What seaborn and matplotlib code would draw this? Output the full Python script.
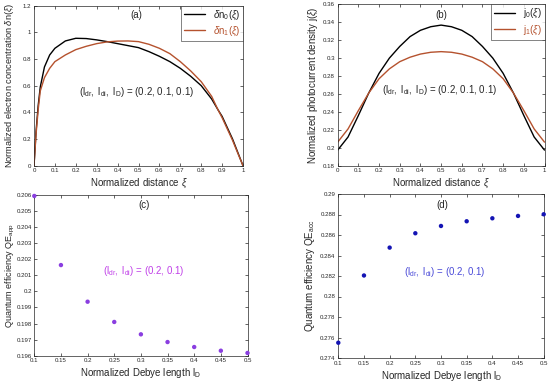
import numpy as np
import pandas as pd
import matplotlib
matplotlib.use("Agg")
import matplotlib.pyplot as plt
from matplotlib.ticker import FuncFormatter
import seaborn as sns

# ---------------- data ----------------
xi_a = [0, 0.01, 0.02, 0.03, 0.05, 0.075, 0.1, 0.15, 0.2, 0.25, 0.3, 0.35, 0.4, 0.45,
        0.5, 0.55, 0.6, 0.65, 0.7, 0.75, 0.8, 0.85, 0.88, 0.9, 0.95, 0.98, 1.0]
dn0 = [0, 0.26, 0.45, 0.59, 0.74, 0.83, 0.88, 0.935, 0.955, 0.953, 0.943, 0.93, 0.915, 0.9,
       0.885, 0.855, 0.82, 0.78, 0.73, 0.67, 0.6, 0.5, 0.42, 0.37, 0.2, 0.08, 0]
dn1 = [0, 0.24, 0.42, 0.56, 0.66, 0.73, 0.78, 0.83, 0.87, 0.895, 0.915, 0.928, 0.934, 0.935,
       0.93, 0.91, 0.88, 0.84, 0.78, 0.71, 0.63, 0.52, 0.42, 0.36, 0.19, 0.075, 0]

xi_b = [0, 0.05, 0.1, 0.15, 0.2, 0.25, 0.3, 0.35, 0.4, 0.45, 0.5,
        0.55, 0.6, 0.65, 0.7, 0.75, 0.8, 0.85, 0.9, 0.95, 1.0]
j0 = [0.1974, 0.212, 0.236, 0.261, 0.283, 0.300, 0.313, 0.324, 0.331, 0.335, 0.3368,
      0.335, 0.331, 0.324, 0.313, 0.300, 0.283, 0.261, 0.236, 0.212, 0.1974]
j1 = [0.2063, 0.221, 0.2415, 0.261, 0.277, 0.288, 0.296, 0.301, 0.3045, 0.3065, 0.3072,
      0.3065, 0.3045, 0.301, 0.296, 0.288, 0.277, 0.261, 0.2415, 0.221, 0.2063]

lD = [0.1, 0.15, 0.2, 0.25, 0.3, 0.35, 0.4, 0.45, 0.5]
qe_app = [0.20594, 0.20164, 0.19936, 0.19810, 0.19733, 0.19685, 0.19654, 0.19631, 0.19617]
qe_acc = [0.27549, 0.28205, 0.28477, 0.28617, 0.28688, 0.28734, 0.28763, 0.28786, 0.28802]

# ---------------- style ----------------
sns.set_style("ticks")
plt.rcParams["font.family"] = ["Liberation Sans", "DejaVu Sans"]
plt.rcParams["mathtext.fontset"] = "custom"
plt.rcParams["mathtext.rm"] = "Liberation Sans"
plt.rcParams["mathtext.it"] = "Liberation Sans:italic"
plt.rcParams["mathtext.default"] = "regular"

W, H = 550, 388
fig = plt.figure(figsize=(W / 100, H / 100), dpi=100)


def add_ax(left, right, top, bottom):
    return fig.add_axes([left / W, 1 - bottom / H, (right - left) / W, (bottom - top) / H])


ax_a = add_ax(34, 243, 5.6, 165.7)
ax_b = add_ax(337.7, 544.5, 4.3, 165.7)
ax_c = add_ax(34.3, 247.5, 195, 355.7)
ax_d = add_ax(338.3, 543.7, 194, 358)

red = "#b5522e"
tick_fs = 4.4
lab_fs = 7.0

g = FuncFormatter(lambda v, p: ("%.4f" % v).rstrip("0").rstrip("."))

for ax in (ax_a, ax_b, ax_c, ax_d):
    ax.tick_params(direction="in", top=True, right=True, labelsize=tick_fs,
                   length=2.5, width=0.5, pad=2, colors="#262626")
    for s in ax.spines.values():
        s.set_linewidth(0.5)
        s.set_color("#262626")
    ax.xaxis.set_major_formatter(g)
    ax.yaxis.set_major_formatter(g)

# (a)
da = pd.DataFrame({"xi": xi_a, "dn0": dn0, "dn1": dn1})
sns.lineplot(data=da, x="xi", y="dn0", ax=ax_a, color="black", lw=1.0,
             label=r"$\mathit{\delta}n_0(\mathit{\xi})$", estimator=None, sort=False)
sns.lineplot(data=da, x="xi", y="dn1", ax=ax_a, color=red, lw=1.0,
             label=r"$\mathit{\delta}n_1(\mathit{\xi})$", estimator=None, sort=False)
ax_a.set_xlim(0, 1)
ax_a.set_ylim(0, 1.2)
ax_a.set_xticks(np.arange(0, 1.01, 0.1))
ax_a.set_yticks(np.arange(0, 1.21, 0.2))
ax_a.set_xlabel(r"Normalized distance $\mathit{\xi}$", fontsize=lab_fs, labelpad=2)
ax_a.set_ylabel(r"Normalized electron concentration $\mathit{\delta}n(\mathit{\xi})$",
                fontsize=lab_fs - 0.3)
ax_a.yaxis.set_label_coords(-0.085, 0.5)
ax_a.text(0.49, 1.13, "(a)", fontsize=lab_fs, ha="center", va="center")
ax_a.text(0.49, 0.55, r"$(l_{dr},\ l_{di},\ l_D)$ = (0.2, 0.1, 0.1)", fontsize=lab_fs,
          ha="center", va="center")
leg = ax_a.legend(loc="upper right", fontsize=lab_fs, borderaxespad=0, frameon=True,
                  fancybox=False, edgecolor="#262626", handlelength=2.2,
                  borderpad=0.3, labelspacing=0.3)
leg.get_frame().set_linewidth(0.5)
leg.get_texts()[1].set_color(red)

# (b)
db = pd.DataFrame({"xi": xi_b, "j0": j0, "j1": j1})
sns.lineplot(data=db, x="xi", y="j0", ax=ax_b, color="black", lw=1.0,
             label=r"$j_0(\mathit{\xi})$", estimator=None, sort=False)
sns.lineplot(data=db, x="xi", y="j1", ax=ax_b, color=red, lw=1.0,
             label=r"$j_1(\mathit{\xi})$", estimator=None, sort=False)
ax_b.set_xlim(0, 1)
ax_b.set_ylim(0.18, 0.36)
ax_b.set_xticks(np.arange(0, 1.01, 0.1))
ax_b.set_yticks(np.arange(0.18, 0.361, 0.02))
ax_b.set_xlabel(r"Normalized distance $\mathit{\xi}$", fontsize=lab_fs, labelpad=2)
ax_b.set_ylabel(r"Normalized photocurrent density $j(\mathit{\xi})$", fontsize=lab_fs, labelpad=2)
ax_b.text(0.5, 0.348, "(b)", fontsize=lab_fs, ha="center", va="center")
ax_b.text(0.494, 0.2648, r"$(l_{dr},\ l_{di},\ l_D)$ = (0.2, 0.1, 0.1)", fontsize=lab_fs,
          ha="center", va="center")
leg = ax_b.legend(loc="upper right", fontsize=lab_fs, borderaxespad=0, frameon=True,
                  fancybox=False, edgecolor="#262626", handlelength=2.2,
                  borderpad=0.3, labelspacing=0.3)
leg.get_frame().set_linewidth(0.5)
leg.get_texts()[1].set_color(red)

# (c)
dc = pd.DataFrame({"lD": lD, "qe": qe_app})
sns.scatterplot(data=dc, x="lD", y="qe", ax=ax_c, color="#8a3ee0", s=10,
                marker="o", edgecolor="none", clip_on=False, zorder=5)
ax_c.set_xlim(0.1, 0.5)
ax_c.set_ylim(0.196, 0.206)
ax_c.set_xticks(lD)
ax_c.set_yticks(np.arange(0.196, 0.20601, 0.001))
ax_c.tick_params(axis="y", pad=1.5)
ax_c.set_xlabel(r"Normalized Debye length $l_D$", fontsize=lab_fs, labelpad=2)
ax_c.set_ylabel(r"Quantum efficiency $QE_{app}$", fontsize=lab_fs - 0.5)
ax_c.yaxis.set_label_coords(-0.082, 0.5)
ax_c.text(0.305, 0.20538, "(c)", fontsize=lab_fs, ha="center", va="center")
ax_c.text(0.305, 0.20127, r"$(l_{dr},\ l_{di})$ = (0.2, 0.1)", fontsize=lab_fs,
          ha="center", va="center", color="#c040e8")

# (d)
dd = pd.DataFrame({"lD": lD, "qe": qe_acc})
sns.scatterplot(data=dd, x="lD", y="qe", ax=ax_d, color="#1414b4", s=10,
                marker="o", edgecolor="none", clip_on=False, zorder=5)
ax_d.set_xlim(0.1, 0.5)
ax_d.set_ylim(0.274, 0.29)
ax_d.set_xticks(lD)
ax_d.set_yticks(np.arange(0.274, 0.29001, 0.002))
ax_d.set_xlabel(r"Normalized Debye length $l_D$", fontsize=lab_fs, labelpad=2)
ax_d.set_ylabel(r"Quantum efficiency $QE_{acc}$", fontsize=lab_fs, labelpad=2)
ax_d.text(0.302, 0.28893, "(d)", fontsize=lab_fs, ha="center", va="center")
ax_d.text(0.308, 0.28243, r"$(l_{dr},\ l_{di})$ = (0.2, 0.1)", fontsize=lab_fs,
          ha="center", va="center", color="#4a4ad8")

fig.savefig("out.png", dpi=100)
